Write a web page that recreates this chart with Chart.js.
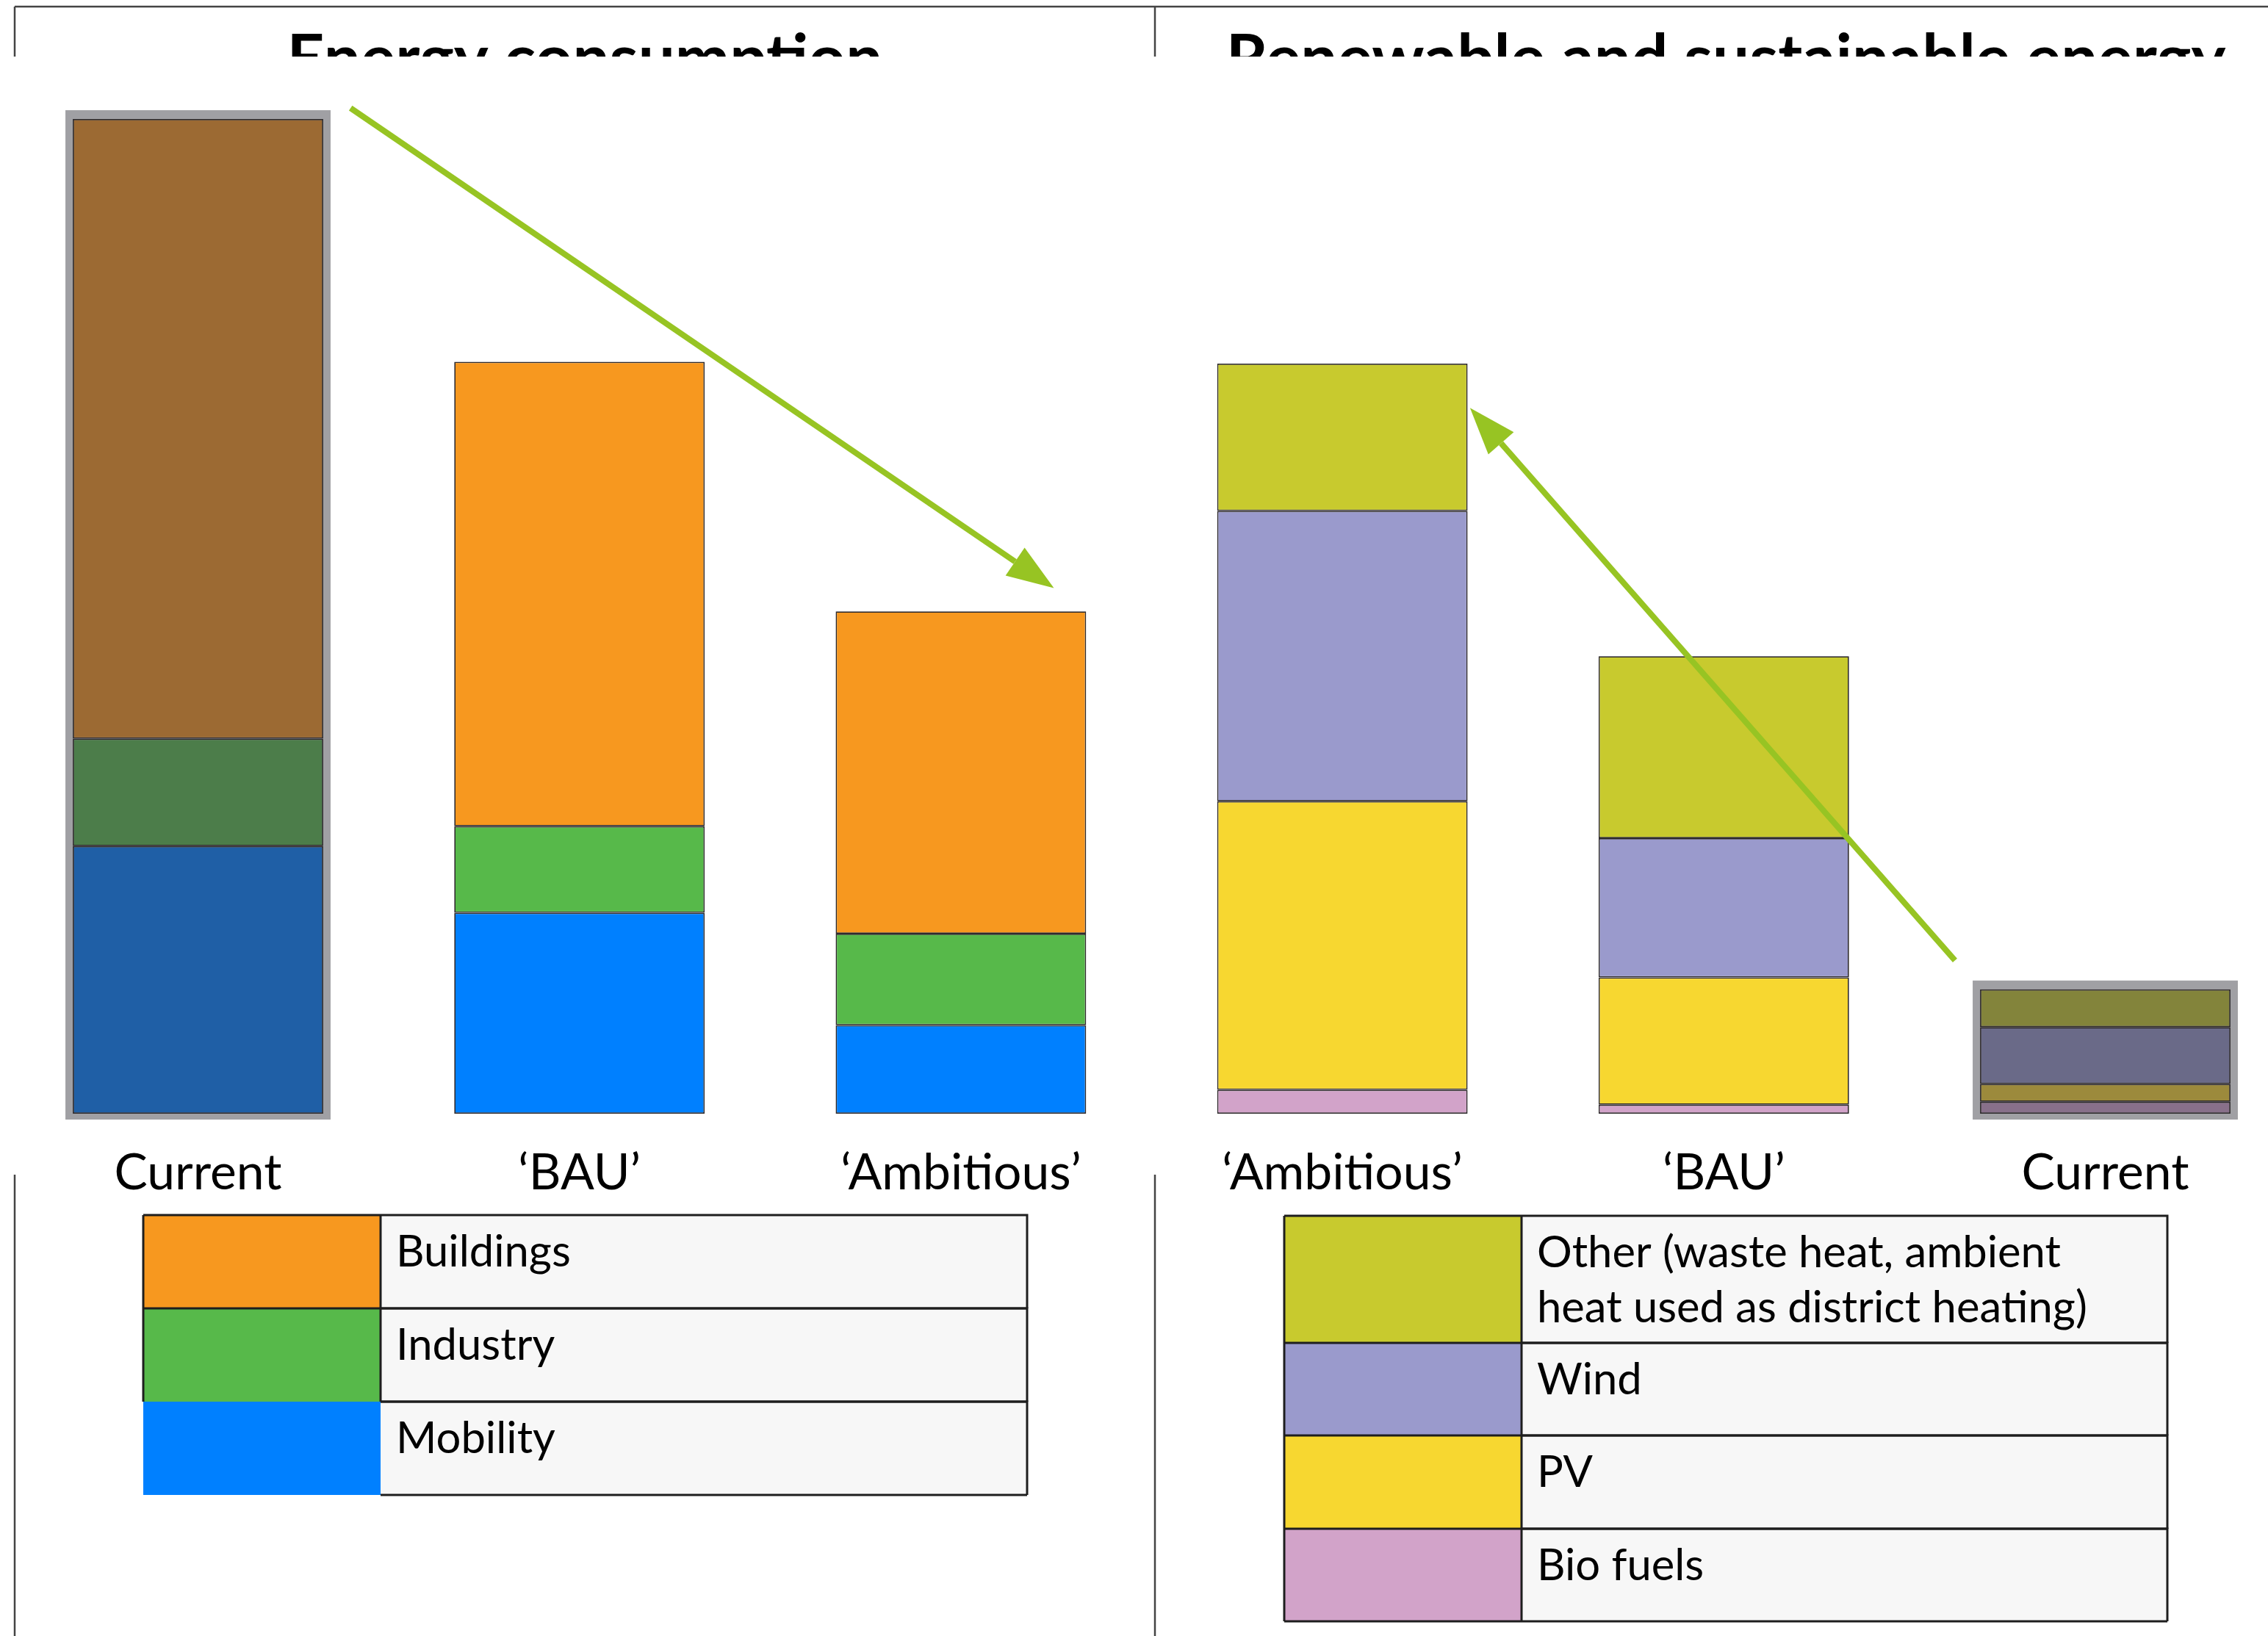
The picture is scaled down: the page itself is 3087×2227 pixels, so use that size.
<!DOCTYPE html>
<html><head><meta charset="utf-8">
<script src="https://cdn.jsdelivr.net/npm/chart.js@4.4.1/dist/chart.umd.min.js"></script>
<style>html,body{margin:0;padding:0;background:#fff;overflow:hidden}canvas{display:block}</style>
</head><body>
<canvas id="c" width="3087" height="2227"></canvas>
<script>
// ---------- data (index: current energy consumption = 100) ----------
const categories = ['Current', '\u2018BAU\u2019', '\u2018Ambitious\u2019', '\u2018Ambitious\u2019', '\u2018BAU\u2019', 'Current'];
const titles = ['Energy consumption', 'Renewable and sustainable energy'];
const mobility  = [26.9, 20.2, 8.9, null, null, null];
const industry  = [10.8, 8.7, 9.2, null, null, null];
const buildings = [62.3, 46.7, 32.4, null, null, null];
const bioFuels  = [null, null, null, 2.4, 0.9, 1.2];
const pv        = [null, null, null, 29.0, 12.8, 1.8];
const wind      = [null, null, null, 29.2, 14.0, 5.7];
const other     = [null, null, null, 14.8, 18.3, 3.8];
const arrowConsumption = [{x: 0.400, y: 101.1}, {x: 2.142, y: 55.5}];
const arrowRenewable   = [{x: 4.606, y: 15.4}, {x: 3.416, y: 67.4}];
const legendLeft  = [['Buildings'], ['Industry'], ['Mobility']];
const legendRight = [['Other (waste heat, ambient', 'heat used as district heating)'], ['Wind'], ['PV'], ['Bio fuels']];

// ---------- styles ----------
const FONT = 'Lato, "Open Sans", sans-serif';
const COL = {
  buildings: '#F7981F', buildingsNow: '#9C6A33',
  industry: '#57B94A', industryNow: '#4C7D4A',
  mobility: '#0080FF', mobilityNow: '#1F5FA6',
  other: '#C8CA2E', otherNow: '#83843B',
  wind: '#9A9ACC', windNow: '#6A6A88',
  pv: '#F7D730', pvNow: '#9C8A3C',
  bio: '#D2A3C9', bioNow: '#88708A'
};
const ARROW = '#97C423';
const FRAME_GRAY = '#A0A0A4';

const mctx = document.createElement('canvas').getContext('2d');
function fitFont(text, weight, target) {
  mctx.font = weight + ' 100px ' + FONT;
  return 100 * target / mctx.measureText(text).width;
}
const titleSize = fitFont(titles[0], 'bold', 811);
const tickSize = fitFont('Current', 'normal', 228);
const legendSize = fitFont(legendRight[0][0], 'normal', 713);

function barSet(label, data, main, now, nowIndex) {
  return {
    type: 'bar', label, data,
    backgroundColor: data.map((v, i) => i === nowIndex ? now : main),
    legendColor: main,
    borderColor: '#2e2a2c', borderWidth: 1.75, borderSkipped: false,
    stack: 'all', grouped: false, order: 1, xAxisID: 'x', yAxisID: 'y', clip: false,
    barPercentage: 0.6566, categoryPercentage: 1
  };
}
function arrowSet(label, data, stack) {
  return {
    type: 'line', label, data, xAxisID: 'xa', yAxisID: 'y', stack,
    borderColor: ARROW, backgroundColor: ARROW, borderWidth: 8, borderCapStyle: 'butt',
    pointRadius: 0, fill: false, tension: 0, clip: false, order: -1, arrow: true
  };
}

const datasets = [
  barSet('Mobility', mobility, COL.mobility, COL.mobilityNow, 0),
  barSet('Industry', industry, COL.industry, COL.industryNow, 0),
  barSet('Buildings', buildings, COL.buildings, COL.buildingsNow, 0),
  barSet('Bio fuels', bioFuels, COL.bio, COL.bioNow, 5),
  barSet('PV', pv, COL.pv, COL.pvNow, 5),
  barSet('Wind', wind, COL.wind, COL.windNow, 5),
  barSet('Other (waste heat, ambient heat used as district heating)', other, COL.other, COL.otherNow, 5),
  arrowSet('Consumption reduction', arrowConsumption, 'arrow1'),
  arrowSet('Renewable growth', arrowRenewable, 'arrow2')
];

function drawTable(ctx, chart, labels, names, g, borderlessLast) {
  const n = labels.length;
  ctx.save();
  for (let i = 0; i < n; i++) {
    const y0 = g.rows[i], y1 = g.rows[i + 1];
    const ds = chart.data.datasets.find(d => d.label === names[i]);
    ctx.fillStyle = '#F7F7F7';
    ctx.fillRect(g.xs, y0, g.x1 - g.xs, y1 - y0);
    ctx.fillStyle = ds.legendColor;
    ctx.fillRect(g.x0, y0, g.xs - g.x0, y1 - y0);
  }
  ctx.strokeStyle = '#1e1e1e'; ctx.lineWidth = 3;
  for (let i = 0; i < n; i++) {
    const y0 = g.rows[i], y1 = g.rows[i + 1];
    ctx.beginPath();
    ctx.moveTo(g.xs, y0); ctx.lineTo(g.x1, y0); ctx.lineTo(g.x1, y1);
    ctx.moveTo(g.xs, y1); ctx.lineTo(g.x1, y1);
    if (!(borderlessLast && i === n - 1)) {
      ctx.moveTo(g.x0, y0); ctx.lineTo(g.xs, y0); ctx.lineTo(g.xs, y1);
      ctx.moveTo(g.x0, y0); ctx.lineTo(g.x0, y1);
      if (i === n - 1) { ctx.moveTo(g.x0, y1); ctx.lineTo(g.xs, y1); }
    }
    ctx.stroke();
  }
  ctx.fillStyle = '#000'; ctx.textAlign = 'left'; ctx.textBaseline = 'alphabetic';
  ctx.font = legendSize + 'px ' + FONT;
  for (let i = 0; i < n; i++) {
    labels[i].forEach((line, k) => ctx.fillText(line, g.xs + 21, g.rows[i] + 70 + k * 75));
  }
  ctx.restore();
}

const decor = {
  id: 'decor',
  beforeDraw(chart) {
    const {ctx, width, height} = chart;
    ctx.save();
    ctx.fillStyle = '#fff'; ctx.fillRect(0, 0, width, height);
    ctx.strokeStyle = '#444'; ctx.lineWidth = 2.5;
    ctx.beginPath();
    ctx.moveTo(20, 9); ctx.lineTo(width, 9);
    [20, 1572].forEach(x => { ctx.moveTo(x, 9); ctx.lineTo(x, 77); ctx.moveTo(x, 1599); ctx.lineTo(x, height); });
    ctx.stroke();
    ctx.beginPath(); ctx.rect(0, 0, width, 77); ctx.clip();
    ctx.fillStyle = '#000'; ctx.textAlign = 'center'; ctx.textBaseline = 'alphabetic';
    ctx.font = 'bold ' + titleSize + 'px ' + FONT;
    ctx.fillText(titles[0], 796, 110);
    ctx.fillText(titles[1], 2349, 110);
    ctx.restore();
  },
  beforeDatasetsDraw(chart) {
    const ctx = chart.ctx;
    [0, 5].forEach(idx => {
      let top = Infinity, bottom = -Infinity, x = null, w = 0;
      chart.data.datasets.forEach((ds, di) => {
        if (ds.type !== 'bar' || ds.data[idx] == null) return;
        const el = chart.getDatasetMeta(di).data[idx];
        if (!el) return;
        top = Math.min(top, el.y, el.base); bottom = Math.max(bottom, el.y, el.base);
        x = el.x; w = el.width;
      });
      if (x === null) return;
      ctx.save(); ctx.fillStyle = FRAME_GRAY;
      ctx.fillRect(x - w / 2 - 10, top - 12, w + 20, bottom - top + 20);
      ctx.restore();
    });
  },
  afterDatasetsDraw(chart) {
    const ctx = chart.ctx;
    chart.data.datasets.forEach((ds, di) => {
      if (!ds.arrow) return;
      const pts = chart.getDatasetMeta(di).data;
      const a = pts[pts.length - 2], b = pts[pts.length - 1];
      const dx = b.x - a.x, dy = b.y - a.y, len = Math.hypot(dx, dy);
      const ux = dx / len, uy = dy / len;
      ctx.save(); ctx.fillStyle = ds.borderColor;
      ctx.beginPath();
      ctx.moveTo(b.x + ux * 64, b.y + uy * 64);
      ctx.lineTo(b.x - uy * 23, b.y + ux * 23);
      ctx.lineTo(b.x + uy * 23, b.y - ux * 23);
      ctx.closePath(); ctx.fill(); ctx.restore();
    });
  },
  afterDraw(chart) {
    const ctx = chart.ctx;
    drawTable(ctx, chart, legendLeft, ['Buildings', 'Industry', 'Mobility'],
      {x0: 195, xs: 518, x1: 1398, rows: [1654, 1781, 1908, 2035]}, true);
    drawTable(ctx, chart, legendRight, ['Other (waste heat, ambient heat used as district heating)', 'Wind', 'PV', 'Bio fuels'],
      {x0: 1748, xs: 2071, x1: 2950, rows: [1655, 1828, 1954, 2081, 2207]}, false);
  }
};

new Chart(document.getElementById('c'), {
  data: { labels: categories, datasets },
  options: {
    responsive: false, animation: false, devicePixelRatio: 1,
    layout: { padding: { left: 269.5, right: 221.5, top: 162, bottom: 591 } },
    plugins: { legend: { display: false }, tooltip: { enabled: false }, title: { display: false } },
    scales: {
      x: {
        type: 'category', position: 'bottom', offset: false, stacked: true,
        grid: { display: false, drawTicks: false }, border: { display: false },
        ticks: { font: { family: FONT, size: tickSize }, color: '#000', padding: 40, maxRotation: 0, autoSkip: false },
        afterFit(scale) { scale.height = 120; }
      },
      xa: { type: 'linear', axis: 'x', position: 'bottom', display: false, min: 0, max: 5, offset: false },
      y: { type: 'linear', stacked: true, display: false, min: 0, max: 100 }
    }
  },
  plugins: [decor]
});
</script>
</body></html>
